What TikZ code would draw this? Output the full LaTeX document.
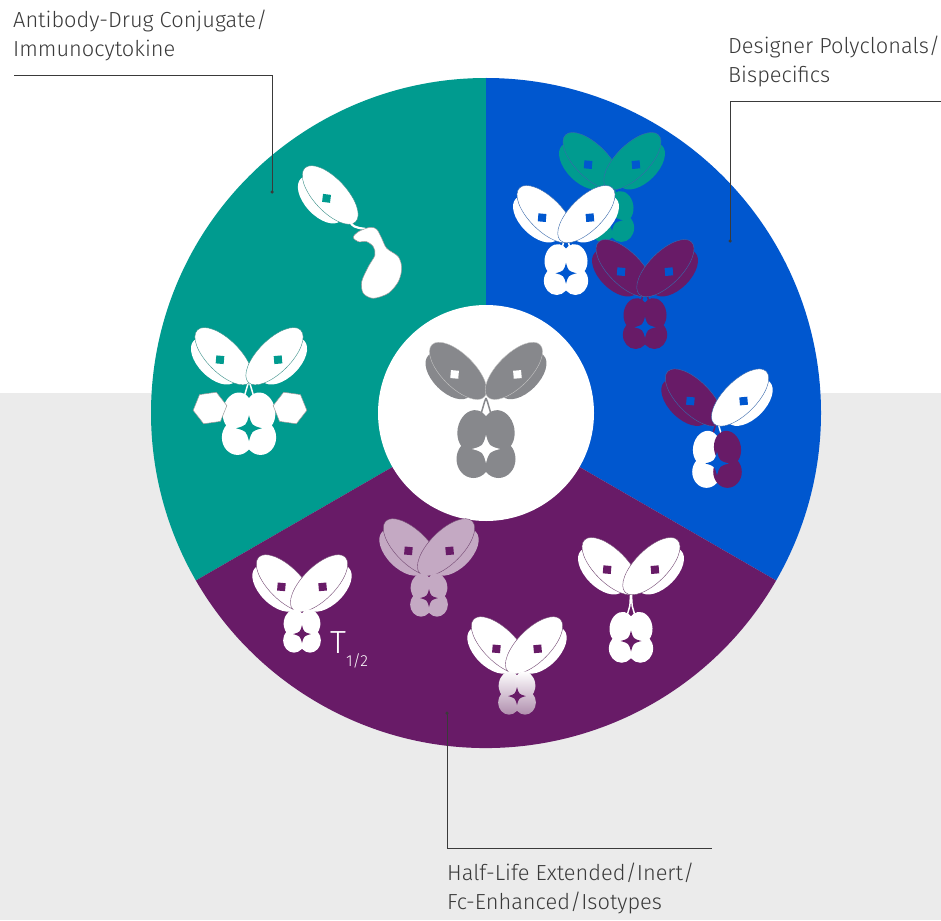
\documentclass[tikz,border=0pt]{standalone}
\usepackage{fontspec}
\IfFontExistsTF{Fira Sans Light}{\setmainfont{Fira Sans Light}}{\setmainfont{Fira Sans}}
\usepackage{tikz}
\usetikzlibrary{shapes.geometric,positioning}

\definecolor{adcteal}{HTML}{009B8F}
\definecolor{bisblue}{HTML}{0057CF}
\definecolor{hlpurple}{HTML}{681B67}
\definecolor{bggray}{HTML}{EBEBEB}
\definecolor{abgray}{HTML}{87888C}
\definecolor{lav}{HTML}{C4A9C3}
\definecolor{lavdark}{HTML}{B08FAE}
\definecolor{txt}{HTML}{3A3A3A}

\tikzset{
    bg/.store in=\bgC, bg=white,
    armL/.store in=\armL, armL=white,
    armR/.store in=\armR, armR=white,
    hingelen/.store in=\hingeLen, hingelen=0,
    fcL/.style={fill=white}, fcR/.style={fill=white},
    abfill/.style={armL=#1, armR=#1, fcL/.style={fill=#1}, fcR/.style={fill=#1}},
    pics/fab/.style={code={
        \path[pic actions] (-3,7) ellipse [x radius=29, y radius=16];
        \path[pic actions] (0,-3) ellipse [x radius=37, y radius=16.5];
        \draw[draw=\bgC!55!gray, line width=0.4pt] (0,-3) ellipse [x radius=37, y radius=16.5];
        \fill[fill=\bgC, rotate around={40:(0,2)}] (-4,-2) rectangle (4,6);
    }},
    pics/antibody/.style={code={
        % hinge
        \draw[draw=\armL, line width=1.5pt] (0,-4) -- (-1.5,\hingeLen) -- (-5,{\hingeLen+12});
        \draw[draw=\armR, line width=1.5pt] (0,-4) -- (1.5,\hingeLen) -- (5,{\hingeLen+12});
        % Fab arms
        \pic[fill=\armL, rotate=-45] at (-30,-29) {fab};
        \pic[fill=\armR, xscale=-1, rotate=-45] at (30,-29) {fab};
        % Fc
        \begin{scope}[shift={(0,\hingeLen)}]
            \path[fcL] (-12.5,29) ellipse [x radius=16, y radius=21, rotate=-10]
                       (-12.5,57) ellipse [x radius=17, y radius=19];
            \path[fcR] (12.5,29) ellipse [x radius=16, y radius=21, rotate=10]
                       (12.5,57) ellipse [x radius=17, y radius=19];
            \fill[fill=\bgC] (0,33) .. controls (3,44) .. (14,47) .. controls (3,50) .. (0,61)
                .. controls (-3,50) .. (-14,47) .. controls (-3,44) .. cycle;
        \end{scope}
    }}
}

\begin{document}
\begin{tikzpicture}[x=1pt, y=-1pt,
    lbl/.style={align=left, inner sep=0pt, anchor=north west, text=txt, font=\fontsize{21.8}{28.5}\selectfont},
    lead/.style={draw=txt, line width=0.9pt},
    tip/.style={circle, fill=txt, inner sep=0pt, minimum size=3.5pt},
    hexa/.style={regular polygon, regular polygon sides=6, minimum size=34pt, inner sep=0pt, fill=white, draw=gray!80, line width=0.5pt}
]
    % Background
    \fill[white] (0,0) rectangle (941,920);
    \fill[bggray] (0,393) rectangle (941,920);
    \useasboundingbox (0,0) rectangle (941,920);

    % Wheel
    \coordinate (c) at (486,413);
    \fill[adcteal] (c) -- ++(-90:335) arc[start angle=-90, end angle=-210, radius=335] -- cycle;
    \fill[bisblue] (c) -- ++(-90:335) arc[start angle=-90, end angle=30, radius=335] -- cycle;
    \fill[hlpurple] (c) -- ++(30:335) arc[start angle=30, end angle=150, radius=335] -- cycle;
    \fill[white] (c) circle[radius=108];

    % Labels
    \node[lbl] (adcLbl) at (13,10) {Antibody-Drug Conjugate/\\Immunocytokine};
    \node[lbl] (bisLbl) at (728,36) {Designer Polyclonals/\\Bispecifics};
    \node[lbl] (hlLbl) at (447,863) {Half-Life Extended/Inert/\\Fc-Enhanced/Isotypes};

    % Leaders
    \coordinate (adcA) at (14,75);
    \coordinate (adcB) at (272,75);
    \node[tip] (adcTip) at (272,192) {};
    \draw[lead] (adcA) -- (adcB) -- (adcTip.center);
    \coordinate (bisA) at (941,101);
    \coordinate (bisB) at (730,101);
    \node[tip] (bisTip) at (730,241) {};
    \draw[lead] (bisA) -- (bisB) -- (bisTip.center);
    \node[tip] (hlTip) at (447,713) {};
    \coordinate (hlB) at (447,848);
    \coordinate (hlA) at (712,848);
    \draw[lead] (hlTip.center) -- (hlB) -- (hlA);

    % Centre
    \pic[abfill=abgray, bg=white] at (486,402) {antibody};

    % Antibody-drug conjugate / immunocytokine
    \pic[fill=white, bg=adcteal, rotate=-47] at (328,197) {fab};
    \draw[white, line width=2.2pt] (350,222) .. controls (356,231) and (362,226) .. (370,231);
    \draw[fill=white, draw=gray!80, line width=0.5pt] plot[smooth cycle] coordinates {
        (353.3,237.3) (358.3,231.7) (370,227.3) (376.7,229.3) (381.7,238.3) (386.7,248.3)
        (398.3,256.7) (401.7,268.3) (398.3,281.7) (388.3,293.3) (373.3,298.3) (363.3,293.3)
        (361.7,281.7) (368.3,266.7) (375,255) (373.3,246.7) (366.7,241.7) (358.3,241.7)};
    \pic[abfill=white, bg=adcteal, scale=0.92] at (249,385) {antibody};
    \node[hexa, rotate=8] (hexL) at (210,408) {};
    \node[hexa, rotate=-8] (hexR) at (290,408) {};

    % Designer polyclonals / bispecifics
    \pic[abfill=adcteal, bg=bisblue, scale=0.75] at (612,185) {antibody};
    \pic[abfill=white, bg=bisblue, scale=0.75] at (566,238) {antibody};
    \pic[abfill=hlpurple, bg=bisblue, scale=0.75] at (645,292) {antibody};
    \pic[armL=hlpurple, armR=white, fcL/.style={fill=white}, fcR/.style={fill=hlpurple},
         bg=bisblue, scale=0.84] at (717,424) {antibody};

    % Half-life extended / inert / Fc-enhanced / isotypes
    \pic[abfill=white, bg=hlpurple, scale=0.64] at (302,604) {antibody};
    \node[anchor=base west, inner sep=0pt, text=white, font=\fontsize{32}{32}\selectfont] (thalf)
        at (330,653) {T\raisebox{-13pt}{\fontsize{16}{16}\selectfont 1/2}};
    \pic[abfill=lav, bg=hlpurple, scale=0.64] at (429,568) {antibody};
    \pic[abfill=white, fcL/.style={top color=white, bottom color=lavdark},
         fcR/.style={top color=white, bottom color=lavdark}, bg=hlpurple, scale=0.64] at (517,666) {antibody};
    \pic[abfill=white, bg=hlpurple, hingelen=21, scale=0.75] at (631,590) {antibody};
\end{tikzpicture}
\end{document}
